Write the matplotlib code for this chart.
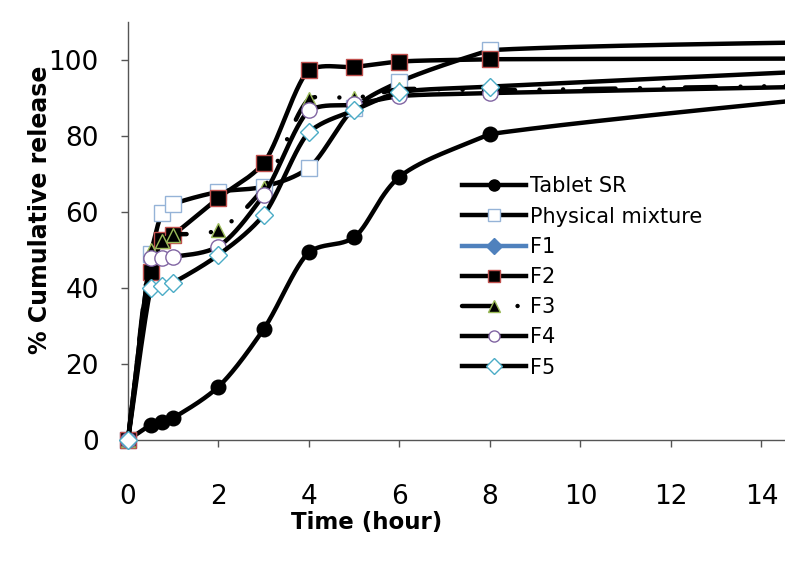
import numpy as np
import matplotlib
matplotlib.use("Agg")
import matplotlib.pyplot as plt

plt.rcParams['font.family'] = ['DejaVu Sans']

time = [0, 0.5, 0.75, 1, 2, 3, 4, 5, 6, 8, 24]
tablet_sr = [0, 3.9, 4.7, 5.8, 14.0, 29.2, 49.5, 53.3, 69.3, 80.5, 100.0]
phys_mix = [0, 49.0, 59.7, 62.1, 65.3, 66.7, 71.6, 87.4, 94.3, 102.6, 106.0]
f1 = []
f2 = [0, 44.2, 52.6, 54.0, 63.7, 72.8, 97.5, 98.2, 99.6, 100.2, 100.5]
f3 = [0, 50.0, 52.5, 54.0, 55.3, 66.3, 89.8, 90.0, 92.3, 92.0, 95.0]
f4 = [0, 47.8, 47.9, 48.2, 50.9, 64.5, 86.8, 88.3, 90.5, 91.3, 95.0]
f5 = [0, 39.9, 40.5, 41.4, 48.7, 59.2, 81.1, 86.8, 91.5, 93.0, 102.0]

SX, SY = 45.25, 3.8  # pixel-ish scale used for Excel-like smoothing


def _unit(v):
    n = np.hypot(*v)
    return v / n if n > 0 else v


def smooth(xs, ys, n=60, k=0.4):
    P = np.column_stack([np.asarray(xs, float) * SX, np.asarray(ys, float) * SY])
    m = len(P)
    seg = [np.hypot(*(P[i + 1] - P[i])) for i in range(m - 1)]
    tin, tout = [], []
    for i in range(m):
        a = P[i - 1] if i > 0 else P[i]
        b = P[i + 1] if i + 1 < m else P[i]
        cr = (b - a) / 6.0
        mag = np.hypot(*cr)
        du = _unit(b - a)
        Lp = seg[i - 1] if i > 0 else 0
        Ln = seg[i] if i < m - 1 else 0
        if 0 < i < m - 1:
            dc = _unit(((P[i] - P[i - 1]) / Lp * Ln + (P[i + 1] - P[i]) / Ln * Lp) / (Lp + Ln))
        else:
            dc = du
        din = dc if Lp < Ln else du
        dout = dc if Ln < Lp else du
        tin.append(din * min(mag, k * Lp))
        tout.append(dout * min(mag, k * Ln))
    out = [P[0]]
    for i in range(m - 1):
        p1, p2 = P[i], P[i + 1]
        c1 = p1 + tout[i]
        c2 = p2 - tin[i + 1]
        t = np.linspace(0, 1, n)[1:, None]
        b = ((1 - t) ** 3) * p1 + 3 * ((1 - t) ** 2) * t * c1 + 3 * (1 - t) * t ** 2 * c2 + t ** 3 * p2
        out.extend(b)
    out = np.array(out)
    return out[:, 0] / SX, out[:, 1] / SY


fig = plt.figure(figsize=(7.85, 5.69), dpi=100)
ax = fig.add_axes([128 / 785, 1 - 440 / 569, 1 - 128 / 785, 418 / 569])

lw = 3.2
series = [
    ("Tablet SR", tablet_sr, dict(marker='o', mfc='black', mec='black', ms=10.5, mew=1), dict(color='black', lw=lw)),
    ("Physical mixture", phys_mix, dict(marker='s', mfc='white', mec='#95B3D7', ms=11.5, mew=1), dict(color='black', lw=lw)),
    ("F1", f1, dict(marker='D', mfc='#4F81BD', mec='#4F81BD', ms=7, mew=1), dict(color='#4F81BD', lw=lw)),
    ("F2", f2, dict(marker='s', mfc='black', mec='#C0504D', ms=11.5, mew=1), dict(color='black', lw=lw)),
    ("F3", f3, dict(marker='^', mfc='black', mec='#9BBB59', ms=10, mew=1),
     dict(color='black', lw=lw, linestyle=(0, (7, 5.5, 0.01, 5.3, 0.01, 4.8)), dash_capstyle='round')),
    ("F4", f4, dict(marker='o', mfc='white', mec='#8064A2', ms=11, mew=1), dict(color='black', lw=lw)),
    ("F5", f5, dict(marker='D', mfc='white', mec='#4BACC6', ms=9, mew=1), dict(color='black', lw=lw)),
]

handles = []
for z, (name, vals, mk, ln) in enumerate(series):
    if len(vals):
        sx, sy = smooth(time, vals)
        ax.plot(sx, sy, zorder=2 + 2 * z, clip_on=False, **ln)
        ax.plot(time, vals, linestyle='none', zorder=3 + 2 * z, clip_on=False, **mk)
    h, = ax.plot([], [], label=name, **ln, **mk)
    handles.append(h)

ax.set_xlim(0, 14.52)
ax.set_ylim(0, 110)
ax.set_xticks(np.arange(0, 15, 2))
ax.set_yticks(np.arange(0, 101, 20))
ax.spines['top'].set_visible(False)
ax.spines['right'].set_visible(False)
for s in ('left', 'bottom'):
    ax.spines[s].set_color('#555555')
    ax.spines[s].set_linewidth(1.0)
ax.tick_params(axis='both', direction='out', length=5, width=1, color='#555555',
               labelsize=19)
ax.tick_params(axis='y', pad=16)
ax.tick_params(axis='x', pad=27)
fig.text(367 / 785, 1 - 522 / 569, 'Time (hour)', fontsize=16.5, fontweight='bold',
         ha='center', va='center')
fig.text(40 / 785, 1 - 210 / 569, '% Cumulative release', fontsize=17, fontweight='bold',
         ha='center', va='center', rotation=90)

leg = fig.legend(handles=handles, loc='upper left',
                 bbox_to_anchor=(452 / 785, 1 - 166 / 569), frameon=False,
                 fontsize=15, handlelength=3.05, handletextpad=0.2,
                 labelspacing=0.49, borderpad=0, numpoints=1)
for h in leg.legend_handles:
    h.set_markersize(8)

fig.savefig('out.png', dpi=100)
